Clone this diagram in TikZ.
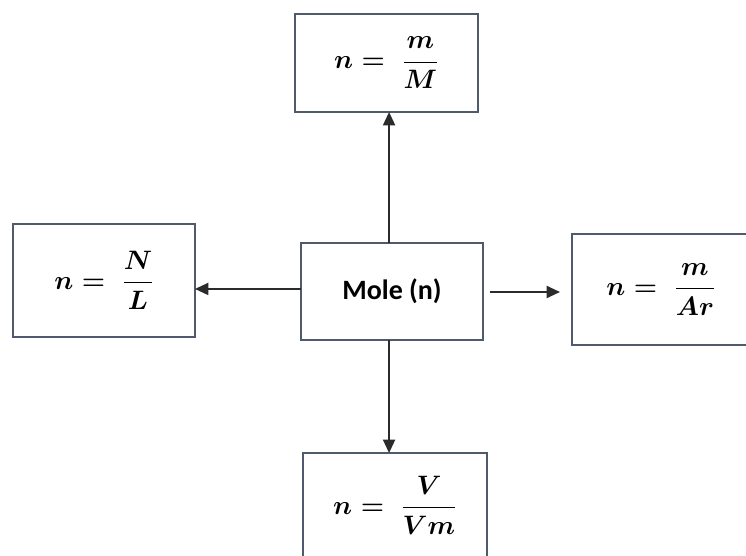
\RequirePackage{fix-cm}
\documentclass[tikz,border=0pt]{standalone}
\usepackage{amsmath}
\usepackage{fontspec}
\setsansfont{Carlito}
\usetikzlibrary{arrows.meta}
\definecolor{boxc}{HTML}{4F5B6D}
\definecolor{arrc}{HTML}{2B2B2B}
\begin{document}
\begin{tikzpicture}[x=0.75pt,y=-0.75pt,
  box/.style={draw=boxc, line width=1.8pt, fill=white, inner sep=0pt, outer sep=0pt},
  arr/.style={draw=arrc, line width=1.4pt, -{Triangle[length=10pt,width=9pt]}},
  eq/.style={font=\fontsize{20}{24}\selectfont\boldmath},
  lbl/.style={font=\sffamily\bfseries\fontsize{21}{24}\selectfont}]
\clip (0,0) rectangle (746,556);
\fill[white] (0,0) rectangle (746,556);
\node[box, eq, minimum width=137.25pt, minimum height=73.5pt] (top) at (386.5,63) {$n=\;\dfrac{m}{M}$};
\node[box, eq, minimum width=136.5pt, minimum height=84.75pt] (left) at (104,280.5) {$n=\;\dfrac{N}{L}$};
\node[box, lbl, minimum width=136.5pt, minimum height=72.75pt] (mole) at (392,291.5) {Mole (n)};
\node[box, eq, minimum width=133.5pt, minimum height=83.25pt] (right) at (661,289.5) {$n=\;\dfrac{m}{Ar}$};
\node[box, eq, minimum width=138pt, minimum height=78.75pt] (bot) at (395,505.5) {$n=\;\dfrac{V}{Vm}$};
\draw[arr] ([xshift=-2.2pt]mole.north) -- ([xshift=-2.2pt]mole.north |- top.south);
\draw[arr] ([xshift=-2.2pt]mole.south) -- ([xshift=-2.2pt]mole.south |- bot.north);
\draw[arr] ([yshift=1.9pt]mole.west) -- ([yshift=1.9pt]mole.west -| left.east);
\draw[arr] ([xshift=5pt,yshift=-0.375pt]mole.east) -- ([xshift=-9pt,yshift=-0.375pt]mole.east -| right.west);
\end{tikzpicture}
\end{document}
